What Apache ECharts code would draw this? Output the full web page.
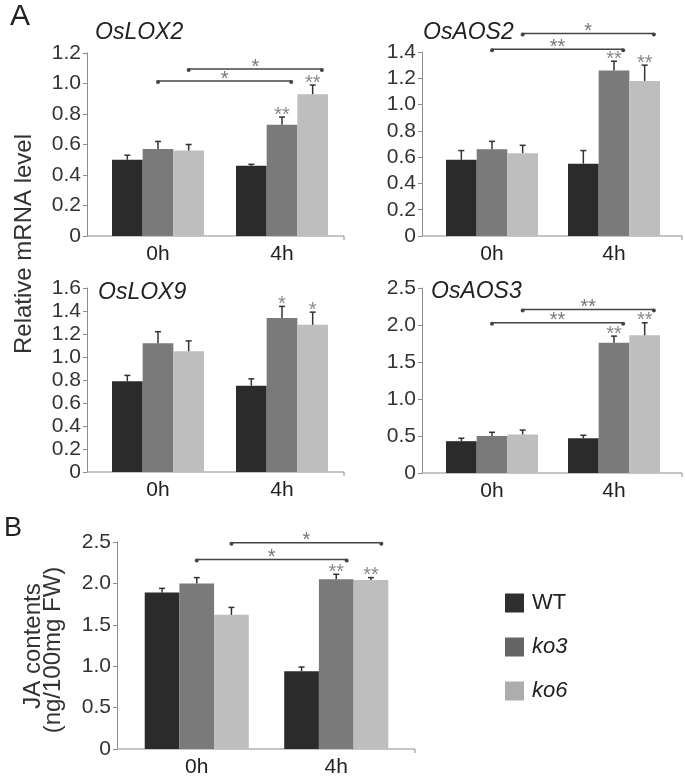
<!DOCTYPE html>
<html><head><meta charset="utf-8">
<script src="https://cdn.jsdelivr.net/npm/echarts@6/dist/echarts.min.js"></script>
<style>html,body{margin:0;padding:0;background:#fff}#c{width:685px;height:783px}</style>
</head><body><div id="c"></div>
<script>
// ---------------- DATA ----------------
const categories = ['0h', '4h'];
const seriesNames = ['WT', 'ko3', 'ko6'];

// Panel A: OsLOX2
const lox2WT = [0.50, 0.46];
const lox2WTErr = [0.03, 0.01];
const lox2Ko3 = [0.57, 0.73];
const lox2Ko3Err = [0.05, 0.05];
const lox2Ko6 = [0.56, 0.93];
const lox2Ko6Err = [0.04, 0.06];
const lox2Ko3Stars = ['', '**'];
const lox2Ko6Stars = ['', '**'];
const lox2Ticks = [0, 0.2, 0.4, 0.6, 0.8, 1.0, 1.2];
const lox2BracketY = [1.016, 1.095];
const lox2BracketSeries = ['ko3', 'ko6'];
const lox2BracketLabels = ['*', '*'];

// Panel A: OsAOS2
const aos2WT = [0.58, 0.55];
const aos2WTErr = [0.07, 0.10];
const aos2Ko3 = [0.66, 1.26];
const aos2Ko3Err = [0.06, 0.07];
const aos2Ko6 = [0.63, 1.18];
const aos2Ko6Err = [0.06, 0.12];
const aos2Ko3Stars = ['', '**'];
const aos2Ko6Stars = ['', '**'];
const aos2Ticks = [0, 0.2, 0.4, 0.6, 0.8, 1.0, 1.2, 1.4];
const aos2BracketY = [1.42, 1.54];
const aos2BracketSeries = ['ko3', 'ko6'];
const aos2BracketLabels = ['**', '*'];

// Panel A: OsLOX9
const lox9WT = [0.79, 0.75];
const lox9WTErr = [0.05, 0.06];
const lox9Ko3 = [1.12, 1.34];
const lox9Ko3Err = [0.10, 0.10];
const lox9Ko6 = [1.05, 1.28];
const lox9Ko6Err = [0.09, 0.11];
const lox9Ko3Stars = ['', '*'];
const lox9Ko6Stars = ['', '*'];
const lox9Ticks = [0, 0.2, 0.4, 0.6, 0.8, 1.0, 1.2, 1.4, 1.6];
const lox9BracketY = [];
const lox9BracketSeries = [];
const lox9BracketLabels = [];

// Panel A: OsAOS3
const aos3WT = [0.43, 0.47];
const aos3WTErr = [0.04, 0.04];
const aos3Ko3 = [0.50, 1.76];
const aos3Ko3Err = [0.05, 0.09];
const aos3Ko6 = [0.52, 1.86];
const aos3Ko6Err = [0.06, 0.17];
const aos3Ko3Stars = ['', '**'];
const aos3Ko6Stars = ['', '**'];
const aos3Ticks = [0, 0.5, 1.0, 1.5, 2.0, 2.5];
const aos3BracketY = [2.03, 2.21];
const aos3BracketSeries = ['ko3', 'ko6'];
const aos3BracketLabels = ['**', '**'];

// Panel B: JA contents
const jaWT = [1.89, 0.94];
const jaWTErr = [0.05, 0.05];
const jaKo3 = [2.00, 2.05];
const jaKo3Err = [0.07, 0.06];
const jaKo6 = [1.62, 2.04];
const jaKo6Err = [0.09, 0.03];
const jaKo3Stars = ['', '**'];
const jaKo6Stars = ['', '**'];
const jaTicks = [0, 0.5, 1.0, 1.5, 2.0, 2.5];
const jaBracketY = [2.29, 2.49];
const jaBracketSeries = ['ko3', 'ko6'];
const jaBracketLabels = ['*', '*'];

// ---------------- LAYOUT / STYLE ----------------
const FONT = '"Liberation Sans", Arial, sans-serif';
const barColors = { WT: '#2b2b2b', ko3: '#7a7a7a', ko6: '#bebebe' };
const axisColor = '#8c8c8c';

const panels = [
  { title: 'OsLOX2', vals: [lox2WT, lox2Ko3, lox2Ko6], errs: [lox2WTErr, lox2Ko3Err, lox2Ko6Err], stars: [[], lox2Ko3Stars, lox2Ko6Stars], ticks: lox2Ticks, bY: lox2BracketY, bS: lox2BracketSeries, bL: lox2BracketLabels,
    axisX: 87, left: 96, width: 248, top: 53, height: 183, lineEnd: 344, gap: 0.258, titleX: 95, titleY: 33 },
  { title: 'OsAOS2', vals: [aos2WT, aos2Ko3, aos2Ko6], errs: [aos2WTErr, aos2Ko3Err, aos2Ko6Err], stars: [[], aos2Ko3Stars, aos2Ko6Stars], ticks: aos2Ticks, bY: aos2BracketY, bS: aos2BracketSeries, bL: aos2BracketLabels,
    axisX: 422, left: 431, width: 244, top: 52, height: 184, lineEnd: 682, gap: 0.246, titleX: 423, titleY: 33 },
  { title: 'OsLOX9', vals: [lox9WT, lox9Ko3, lox9Ko6], errs: [lox9WTErr, lox9Ko3Err, lox9Ko6Err], stars: [[], lox9Ko3Stars, lox9Ko6Stars], ticks: lox9Ticks, bY: lox9BracketY, bS: lox9BracketSeries, bL: lox9BracketLabels,
    axisX: 87, left: 96, width: 248, top: 288, height: 184, lineEnd: 344, gap: 0.258, titleX: 98, titleY: 293 },
  { title: 'OsAOS3', vals: [aos3WT, aos3Ko3, aos3Ko6], errs: [aos3WTErr, aos3Ko3Err, aos3Ko6Err], stars: [[], aos3Ko3Stars, aos3Ko6Stars], ticks: aos3Ticks, bY: aos3BracketY, bS: aos3BracketSeries, bL: aos3BracketLabels,
    axisX: 422, left: 431, width: 244, top: 288, height: 185, lineEnd: 682, gap: 0.246, titleX: 431, titleY: 292 },
  { title: '', vals: [jaWT, jaKo3, jaKo6], errs: [jaWTErr, jaKo3Err, jaKo6Err], stars: [[], jaKo3Stars, jaKo6Stars], ticks: jaTicks, bY: jaBracketY, bS: jaBracketSeries, bL: jaBracketLabels,
    axisX: 117, left: 127, width: 279, top: 542, height: 207, lineEnd: 415, gap: 0.254, titleX: 0, titleY: 0 }
];

function makeErrRender(rows, gap) {
  return function (params, api) {
    const r = rows[params.dataIndex];
    const bw = api.size([1, 0])[0];
    const barW = bw * (1 - gap) / 3;
    const cx = api.coord([r.cat, 0])[0] + (r.k - 1) * barW;
    const yTop = api.coord([r.cat, r.v])[1];
    const yCap = api.coord([r.cat, r.v + r.e])[1];
    const ch = [
      { type: 'line', shape: { x1: cx, y1: yTop, x2: cx, y2: yCap }, style: { stroke: '#333', lineWidth: 1.5 } },
      { type: 'line', shape: { x1: cx - 3, y1: yCap, x2: cx + 3, y2: yCap }, style: { stroke: '#333', lineWidth: 1.5 } }
    ];
    if (r.star) {
      ch.push({ type: 'text', style: { text: r.star, x: cx, y: yCap - 2, align: 'center', verticalAlign: 'middle',
        fill: '#8a8a8a', fontSize: 20, fontFamily: FONT } });
    }
    return { type: 'group', children: ch };
  };
}

function makeBracketRender(rows, gap) {
  return function (params, api) {
    const r = rows[params.dataIndex];
    const bw = api.size([1, 0])[0];
    const barW = bw * (1 - gap) / 3;
    const x1 = api.coord([0, r.y])[0] + (r.k - 1) * barW;
    const x2 = api.coord([1, r.y])[0] + (r.k - 1) * barW + 0.3 * barW;
    const y = api.coord([0, r.y])[1];
    return { type: 'group', children: [
      { type: 'line', shape: { x1: x1, y1: y, x2: x2, y2: y }, style: { stroke: '#444', lineWidth: 1.5 } },
      { type: 'circle', shape: { cx: x1, cy: y + 1, r: 2 }, style: { fill: '#444' } },
      { type: 'circle', shape: { cx: x2, cy: y + 1, r: 2 }, style: { fill: '#444' } },
      { type: 'text', style: { text: r.label, x: (x1 + x2) / 2, y: y - 2, align: 'center', verticalAlign: 'middle',
        fill: '#777', fontSize: 20, fontFamily: FONT } }
    ] };
  };
}

const grid = [], xAxis = [], yAxis = [], series = [], graphic = [];
panels.forEach(function (p, i) {
  grid.push({ left: p.left, top: p.top, width: p.width, height: p.height, containLabel: false });
  xAxis.push({ type: 'category', gridIndex: i, data: categories,
    axisLine: { show: false }, axisTick: { show: false },
    axisLabel: { fontSize: 21, color: '#222', margin: 8, fontFamily: FONT } });
  const step = p.ticks[1] - p.ticks[0];
  yAxis.push({ type: 'value', gridIndex: i, min: p.ticks[0], max: p.ticks[p.ticks.length - 1], interval: step,
    offset: p.left - p.axisX,
    axisLine: { show: true, lineStyle: { color: axisColor, width: 1 } },
    axisTick: { show: true, length: 4, lineStyle: { color: axisColor } },
    splitLine: { show: false },
    axisLabel: { fontSize: 21, color: '#333', margin: 6, fontFamily: FONT,
      formatter: function (v) { return v === 0 ? '0' : v.toFixed(1); } } });
  seriesNames.forEach(function (n, k) {
    series.push({ type: 'bar', name: n, xAxisIndex: i, yAxisIndex: i, data: p.vals[k],
      barGap: '0%', barCategoryGap: (p.gap * 100) + '%', silent: true,
      itemStyle: { color: barColors[n] } });
  });
  const rows = [];
  seriesNames.forEach(function (n, k) {
    categories.forEach(function (c, ci) {
      rows.push({ cat: ci, k: k, v: p.vals[k][ci], e: p.errs[k][ci], star: p.stars[k][ci] || '' });
    });
  });
  series.push({ type: 'custom', xAxisIndex: i, yAxisIndex: i, silent: true, clip: false, z: 5,
    renderItem: makeErrRender(rows, p.gap),
    encode: { x: 0, y: 1 },
    data: rows.map(function (r) { return [r.cat, r.v + r.e]; }) });
  if (p.bY.length) {
    const brows = p.bY.map(function (y, j) { return { y: y, k: seriesNames.indexOf(p.bS[j]), label: p.bL[j] }; });
    series.push({ type: 'custom', xAxisIndex: i, yAxisIndex: i, silent: true, clip: false, z: 5,
      renderItem: makeBracketRender(brows, p.gap),
      encode: { x: 0, y: 1 },
      data: brows.map(function (r) { return [0, r.y]; }) });
  }
  const yb = p.top + p.height;
  graphic.push({ type: 'line', silent: true, shape: { x1: p.axisX, y1: yb, x2: p.lineEnd, y2: yb },
    style: { stroke: axisColor, lineWidth: 1 } });
  graphic.push({ type: 'line', silent: true, shape: { x1: p.lineEnd, y1: yb, x2: p.lineEnd, y2: yb + 4 },
    style: { stroke: axisColor, lineWidth: 1 } });
  if (p.title) {
    graphic.push({ type: 'text', silent: true, x: p.titleX, y: p.titleY,
      style: { text: p.title, fill: '#222', fontSize: 23, fontStyle: 'italic', fontFamily: FONT, verticalAlign: 'middle' } });
  }
});

graphic.push({ type: 'text', x: 10, y: 17, style: { text: 'A', fill: '#222', fontSize: 30, fontFamily: FONT, verticalAlign: 'middle' } });
graphic.push({ type: 'text', x: 4, y: 529, style: { text: 'B', fill: '#222', fontSize: 27, fontFamily: FONT, verticalAlign: 'middle' } });
graphic.push({ type: 'text', x: 24, y: 244, rotation: Math.PI / 2,
  style: { text: 'Relative mRNA level', fill: '#333', fontSize: 24, fontFamily: FONT, align: 'center', verticalAlign: 'middle' } });
graphic.push({ type: 'text', x: 33, y: 646, rotation: Math.PI / 2,
  style: { text: 'JA contents', fill: '#333', fontSize: 24, fontFamily: FONT, align: 'center', verticalAlign: 'middle' } });
graphic.push({ type: 'text', x: 53, y: 650, rotation: Math.PI / 2,
  style: { text: '(ng/100mg FW)', fill: '#333', fontSize: 24, fontFamily: FONT, align: 'center', verticalAlign: 'middle' } });

const chart = echarts.init(document.getElementById('c'), null, { renderer: 'canvas' });
chart.setOption({
  backgroundColor: '#ffffff',
  animation: false,
  textStyle: { fontFamily: FONT },
  grid: grid, xAxis: xAxis, yAxis: yAxis, series: series, graphic: graphic,
  legend: {
    left: 505, top: 592, orient: 'vertical', padding: 0,
    itemWidth: 19, itemHeight: 19, itemGap: 22, icon: 'rect', selectedMode: false,
    data: [
      { name: 'WT', itemStyle: { color: '#2e2e2e' } },
      { name: 'ko3', itemStyle: { color: '#656565' } },
      { name: 'ko6', itemStyle: { color: '#adadad' } }
    ],
    formatter: function (n) { return n === 'WT' ? n : '{i|' + n + '}'; },
    textStyle: { fontSize: 22, color: '#222', fontFamily: FONT, padding: [0, 0, 0, 3],
      rich: { i: { fontSize: 22, fontStyle: 'italic', color: '#222', fontFamily: FONT } } }
  }
});
</script>
</body></html>
